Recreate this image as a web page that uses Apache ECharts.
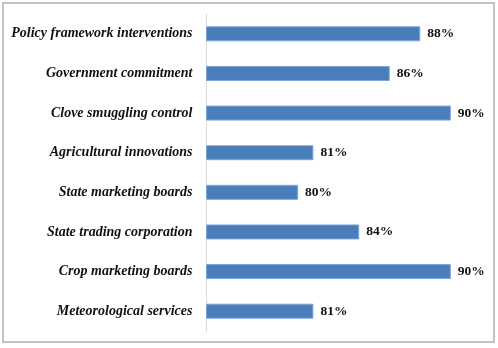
<!DOCTYPE html>
<html>
<head>
<meta charset="utf-8">
<style>
  html, body { margin: 0; padding: 0; background: #ffffff; }
  #chart { width: 498px; height: 348px; }
</style>
<script src="https://cdn.jsdelivr.net/npm/echarts@6/dist/echarts.min.js"></script>
</head>
<body>
<div id="chart"></div>
<script>
// Categories, listed top to bottom
const categories = [
  'Policy framework interventions',
  'Government commitment',
  'Clove smuggling control',
  'Agricultural innovations',
  'State marketing boards',
  'State trading corporation',
  'Crop marketing boards',
  'Meteorological services'
];

// Share of respondents (%)
const values = [88, 86, 90, 81, 80, 84, 90, 81];

const chart = echarts.init(document.getElementById('chart'), null, { renderer: 'canvas' });

const serif = '"Liberation Serif", "Times New Roman", "DejaVu Serif", serif';

chart.setOption({
  animation: false,
  backgroundColor: '#ffffff',
  graphic: [{
    type: 'rect',
    shape: { x: 3, y: 3, width: 491, height: 339 },
    style: { fill: 'none', stroke: '#c4c4c4', lineWidth: 2 },
    z: 100
  }],
  grid: {
    left: 206.5,
    right: 498 - (206.5 + 18 * 15.27),
    top: 14,
    bottom: 17,
    containLabel: false
  },
  xAxis: {
    type: 'value',
    min: 74,
    max: 92,
    show: false,
    splitLine: { show: false }
  },
  yAxis: {
    type: 'category',
    data: categories,
    inverse: true,
    axisLine: { show: true, lineStyle: { color: '#d9d9d9', width: 1 } },
    axisTick: { show: false },
    axisLabel: {
      margin: 14,
      color: '#111111',
      fontFamily: serif,
      fontStyle: 'italic',
      fontWeight: 'bold',
      fontSize: 14
    }
  },
  series: [{
    type: 'bar',
    data: values,
    barWidth: 15,
    itemStyle: {
      color: '#4a7ebb',
      borderColor: '#7fa6d6',
      borderWidth: 1
    },
    label: {
      show: true,
      position: 'right',
      distance: 7,
      formatter: p => p.value + '%',
      color: '#111111',
      fontFamily: serif,
      fontWeight: 'bold',
      fontSize: 13.5
    }
  }]
});
</script>
</body>
</html>
